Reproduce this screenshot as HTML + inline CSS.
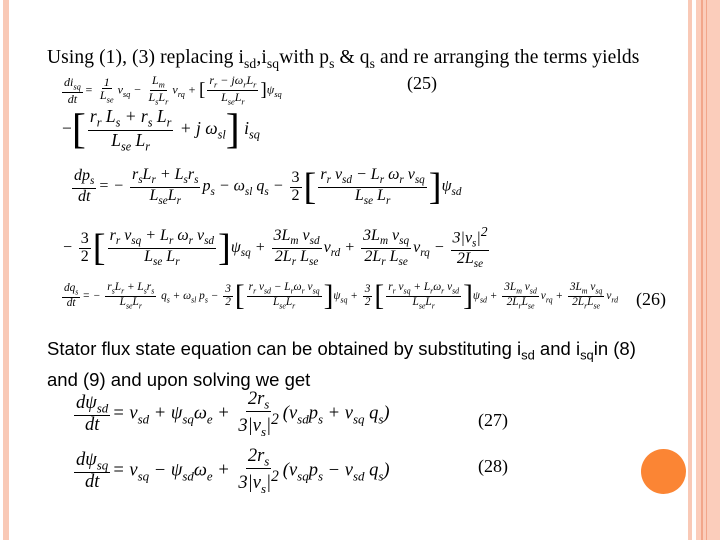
<!DOCTYPE html>
<html><head><meta charset="utf-8"><style>
body{margin:0;width:720px;height:540px;background:#fff;position:relative;overflow:hidden;font-family:"Liberation Serif",serif;color:#000}
.a{position:absolute;white-space:nowrap}
.f{display:inline-flex;flex-direction:column;align-items:center;vertical-align:middle;line-height:1.05;margin:0 2px}
.f>span:first-child{border-bottom:1px solid #000;padding:0 2px}
.f>span{padding:0 2px}
.m{font-style:italic;font-family:"Liberation Serif","DejaVu Serif",serif}
.b{font-size:1.6em;vertical-align:middle;font-style:normal;font-weight:300}
sub{font-size:0.7em}
</style></head><body>
<div class="a" style="left:3px;top:0;width:6px;height:540px;background:#f9c9b6"></div>
<div class="a" style="left:688px;top:0;width:4px;height:540px;background:#f9c9b6"></div>
<div class="a" style="left:696px;top:0;width:24px;height:540px;background:#fbcdbb"></div>
<div class="a" style="left:701px;top:0;width:2px;height:540px;background:#f2a68a"></div>
<div class="a" style="left:706px;top:0;width:1px;height:540px;background:#f2a68a"></div>
<div class="a" style="left:641px;top:449px;width:45px;height:45px;border-radius:50%;background:#fb8534"></div>

<div class="a" style="left:47px;top:47px;font-size:19.5px;letter-spacing:0.1px">Using (1), (3) replacing i<sub>sd</sub>,i<sub>sq</sub>with p<sub>s</sub> &amp; q<sub>s</sub> and re arranging the terms yields</div>
<div class="a" style="left:407px;top:73px;font-size:18px">(25)</div>

<div class="a m" style="left:60px;top:74px;font-size:12px"><span class="f"><span>di<sub>sq</sub></span><span>dt</span></span>= <span class="f"><span>1</span><span>L<sub>se</sub></span></span>v<sub>sq</sub> − <span class="f"><span>L<sub>m</sub></span><span>L<sub>s</sub>L<sub>r</sub></span></span>v<sub>rq</sub> + <span class="b">[</span><span class="f" style="border:0"><span>r<sub>r</sub> − jω<sub>r</sub>L<sub>r</sub></span><span>L<sub>se</sub>L<sub>r</sub></span></span><span class="b">]</span>ψ<sub>sq</sub></div>

<div class="a m" style="left:62px;top:106px;font-size:17.5px"><span style="font-style:normal">−</span><span class="b" style="font-size:2.4em">[</span><span class="f"><span>r<sub>r</sub> L<sub>s</sub> + r<sub>s</sub> L<sub>r</sub></span><span>L<sub>se</sub> L<sub>r</sub></span></span> + j ω<sub>sl</sub><span class="b" style="font-size:2.4em">]</span> i<sub>sq</sub></div>

<div class="a m" style="left:70px;top:165px;font-size:16px"><span class="f"><span>dp<sub>s</sub></span><span>dt</span></span>= − <span class="f"><span>r<sub>s</sub>L<sub>r</sub> + L<sub>s</sub>r<sub>s</sub></span><span>L<sub>se</sub>L<sub>r</sub></span></span>p<sub>s</sub> − ω<sub>sl</sub> q<sub>s</sub> − <span class="f" style="font-style:normal"><span>3</span><span>2</span></span><span class="b" style="font-size:2.4em">[</span><span class="f"><span>r<sub>r</sub> v<sub>sd</sub> − L<sub>r</sub> ω<sub>r</sub> v<sub>sq</sub></span><span>L<sub>se</sub> L<sub>r</sub></span></span><span class="b" style="font-size:2.4em">]</span>ψ<sub>sd</sub></div>

<div class="a m" style="left:62px;top:225px;font-size:16px">− <span class="f" style="font-style:normal"><span>3</span><span>2</span></span><span class="b" style="font-size:2.4em">[</span><span class="f"><span>r<sub>r</sub> v<sub>sq</sub> + L<sub>r</sub> ω<sub>r</sub> v<sub>sd</sub></span><span>L<sub>se</sub> L<sub>r</sub></span></span><span class="b" style="font-size:2.4em">]</span>ψ<sub>sq</sub> + <span class="f"><span>3L<sub>m</sub> v<sub>sd</sub></span><span>2L<sub>r</sub> L<sub>se</sub></span></span>v<sub>rd</sub> + <span class="f"><span>3L<sub>m</sub> v<sub>sq</sub></span><span>2L<sub>r</sub> L<sub>se</sub></span></span>v<sub>rq</sub> − <span class="f"><span>3|v<sub>s</sub>|<sup>2</sup></span><span>2L<sub>se</sub></span></span></div>

<div class="a m" style="left:60px;top:280px;font-size:11.3px"><span class="f"><span>dq<sub>s</sub></span><span>dt</span></span>= − <span class="f"><span>r<sub>s</sub>L<sub>r</sub> + L<sub>s</sub>r<sub>s</sub></span><span>L<sub>se</sub>L<sub>r</sub></span></span> q<sub>s</sub> + ω<sub>sl</sub> p<sub>s</sub> − <span class="f"><span>3</span><span>2</span></span><span class="b" style="font-size:2.6em">[</span><span class="f" ><span>r<sub>r</sub> v<sub>sd</sub> − L<sub>r</sub>ω<sub>r</sub> v<sub>sq</sub></span><span>L<sub>se</sub>L<sub>r</sub></span></span><span class="b" style="font-size:2.6em">]</span>ψ<sub>sq</sub> + <span class="f"><span>3</span><span>2</span></span><span class="b" style="font-size:2.6em">[</span><span class="f"><span>r<sub>r</sub> v<sub>sq</sub> + L<sub>r</sub>ω<sub>r</sub> v<sub>sd</sub></span><span>L<sub>se</sub>L<sub>r</sub></span></span><span class="b" style="font-size:2.6em">]</span>ψ<sub>sd</sub> + <span class="f"><span>3L<sub>m</sub> v<sub>sd</sub></span><span>2L<sub>r</sub>L<sub>se</sub></span></span>v<sub>rq</sub> + <span class="f"><span>3L<sub>m</sub> v<sub>sq</sub></span><span>2L<sub>r</sub>L<sub>se</sub></span></span>v<sub>rd</sub></div>
<div class="a" style="left:636px;top:289px;font-size:18px">(26)</div>

<div class="a" style="left:47px;top:337px;font-size:18.5px;font-family:'Liberation Sans',sans-serif;line-height:24px">Stator flux state equation can be obtained by substituting i<sub>sd</sub> and i<sub>sq</sub>in (8)<br>and (9) and upon solving we get</div>

<div class="a m" style="left:72px;top:390px;font-size:18.5px"><span class="f"><span>dψ<sub>sd</sub></span><span>dt</span></span>= v<sub>sd</sub> + ψ<sub>sq</sub>ω<sub>e</sub> + <span class="f"><span>2r<sub>s</sub></span><span>3|v<sub>s</sub>|<sup>2</sup></span></span>(v<sub>sd</sub>p<sub>s</sub> + v<sub>sq</sub> q<sub>s</sub>)</div>
<div class="a" style="left:478px;top:410px;font-size:18px">(27)</div>

<div class="a m" style="left:72px;top:447px;font-size:18.5px"><span class="f"><span>dψ<sub>sq</sub></span><span>dt</span></span>= v<sub>sq</sub> − ψ<sub>sd</sub>ω<sub>e</sub> + <span class="f"><span>2r<sub>s</sub></span><span>3|v<sub>s</sub>|<sup>2</sup></span></span>(v<sub>sq</sub>p<sub>s</sub> − v<sub>sd</sub> q<sub>s</sub>)</div>
<div class="a" style="left:478px;top:456px;font-size:18px">(28)</div>
</body></html>
